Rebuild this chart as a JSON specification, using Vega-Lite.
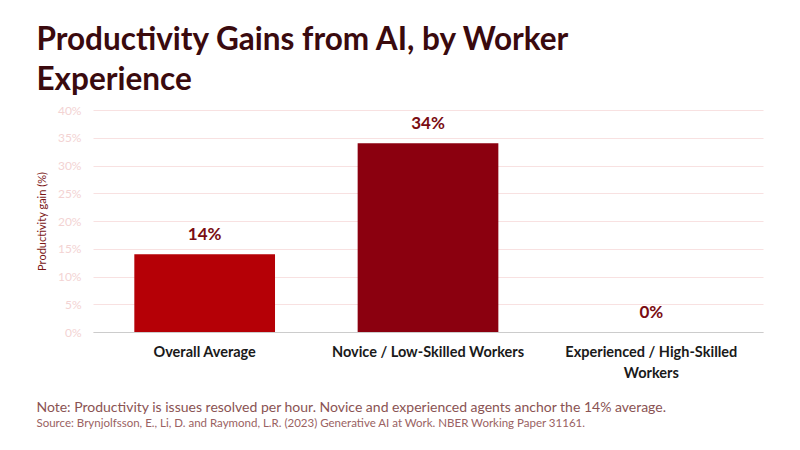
{
  "$schema": "https://vega.github.io/schema/vega-lite/v6.json",
  "background": "white",
  "padding": {"left": 36, "top": 24, "right": 10, "bottom": 5},
  "title": {
    "text": ["Productivity Gains from AI, by Worker", "Experience"],
    "anchor": "start",
    "frame": "bounds",
    "font": "Source Sans Pro, Lato, sans-serif",
    "fontSize": 31.5,
    "fontWeight": "bold",
    "color": "#3a0a0e",
    "lineHeight": 40,
    "offset": 8
  },
  "config": {
    "font": "Source Sans Pro, Lato, sans-serif",
    "view": {"stroke": null}
  },
  "vconcat": [
    {
      "width": 670,
      "height": 222,
      "title": {
        "text": "Note: Productivity is issues resolved per hour. Novice and experienced agents anchor the 14% average.",
        "subtitle": "Source: Brynjolfsson, E., Li, D. and Raymond, L.R. (2023) Generative AI at Work. NBER Working Paper 31161.",
        "orient": "bottom",
        "anchor": "start",
        "frame": "bounds",
        "fontSize": 14,
        "fontWeight": "normal",
        "color": "#8a5353",
        "subtitleFontSize": 11.5,
        "subtitleColor": "#9a6262",
        "subtitlePadding": 3,
        "offset": 21
      },
      "data": {
        "values": [
          {"group": "Overall Average", "gain": 0.14},
          {"group": "Novice / Low-Skilled Workers", "gain": 0.34},
          {"group": "Experienced / High-Skilled Workers", "gain": 0.0}
        ]
      },
      "encoding": {
        "x": {
          "field": "group",
          "type": "nominal",
          "sort": null,
          "scale": {"paddingInner": 0.37, "paddingOuter": 0.185},
          "axis": {
            "title": null,
            "labelAngle": 0,
            "labelFontSize": 14.5,
            "labelFontWeight": "bold",
            "labelColor": "#1a1a1a",
            "labelPadding": 13,
            "labelLimit": 300,
            "labelLineHeight": 21,
            "labelExpr": "datum.label == 'Experienced / High-Skilled Workers' ? ['Experienced / High-Skilled', 'Workers'] : datum.label",
            "ticks": false,
            "domainColor": "#cccccc",
            "domainWidth": 1
          }
        },
        "y": {
          "field": "gain",
          "type": "quantitative",
          "scale": {"domain": [0, 0.4]},
          "axis": {
            "title": "Productivity gain (%)",
            "titleFontSize": 11,
            "titleFontWeight": "normal",
            "titleColor": "#7a1515",
            "titlePadding": 10,
            "format": ".0%",
            "values": [0, 0.05, 0.1, 0.15, 0.2, 0.25, 0.3, 0.35, 0.4],
            "labelOverlap": false,
            "labelFontSize": 12,
            "labelColor": "#f3d3d3",
            "labelPadding": 12,
            "ticks": false,
            "domain": false,
            "gridColor": "#f8e1e1",
            "gridWidth": 1
          }
        }
      },
      "layer": [
        {
          "mark": {"type": "bar"},
          "encoding": {
            "color": {
              "field": "group",
              "type": "nominal",
              "scale": {
                "domain": ["Overall Average", "Novice / Low-Skilled Workers", "Experienced / High-Skilled Workers"],
                "range": ["#b50006", "#8b000f", "#7a0c12"]
              },
              "legend": null
            }
          }
        },
        {
          "mark": {
            "type": "text",
            "baseline": "bottom",
            "dy": -10,
            "fontSize": 17,
            "fontWeight": "bold",
            "color": "#7a0c12"
          },
          "encoding": {
            "text": {"field": "gain", "type": "quantitative", "format": ".0%"}
          }
        }
      ]
    }
  ]
}
